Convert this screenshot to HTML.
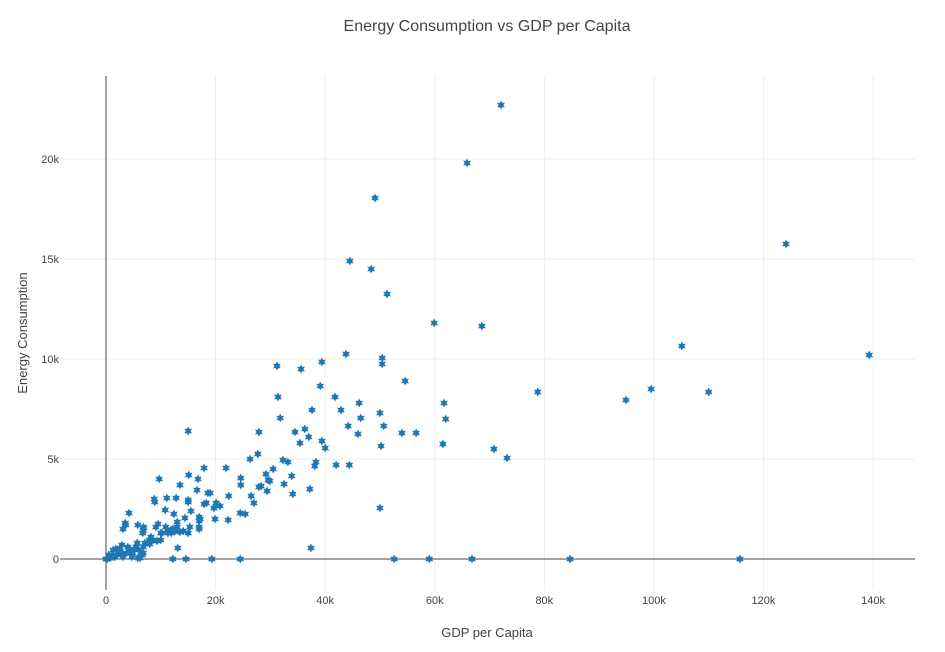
<!DOCTYPE html>
<html><head><meta charset="utf-8"><style>
body{margin:0;background:#fff;}
svg{display:block;font-family:"Liberation Sans",sans-serif;}
</style></head><body>
<svg id="chart" width="945" height="652">
<text x="487" y="31" text-anchor="middle" font-size="16" fill="#444">Energy Consumption vs GDP per Capita</text>
<g id="grid"></g>
<g id="axes"></g>
<g id="points"></g>
<text x="487" y="637" text-anchor="middle" font-size="13" fill="#444">GDP per Capita</text>
<text transform="translate(27,333) rotate(-90)" text-anchor="middle" font-size="13" fill="#444">Energy Consumption</text>
</svg>
<script>
const xTicks=[0,20,40,60,80,100,120,140];
const xTickLabels=["0","20k","40k","60k","80k","100k","120k","140k"];
const yTicks=[0,5,10,15,20];
const yTickLabels=["0","5k","10k","15k","20k"];
const gdp=[72.1,65.9,49.1,44.5,48.4,51.3,59.9,68.6,43.8,50.4,50.4,39.4,35.6,54.6,39.1,41.8,46.2,61.7,78.8,37.6,42.9,50,46.5,62,36.3,44.2,50.7,37,35.4,46,54,56.6,39.4,40,50.2,61.5,70.8,73.2,38.3,38.1,42,44.4,37.2,50,37.4,52.6,59,66.8,84.7,115.7,94.9,99.5,105.1,110,124.1,139.3,
31.2,31.4,31.8,15,27.9,34.5,27.7,26.3,32.3,33.2,30.5,17.9,21.9,9.7,15.1,13.5,16.8,16.6,24.6,24.6,29.2,29.6,29.9,27.9,28.3,29.4,32.5,33.9,34.1,18.6,19,8.8,8.9,11.1,12.8,15,15,22.4,26.5,27,17.9,18.3,19.7,20.1,20.8,10.8,15.5,4.2,12.4,24.5,25.4,13,14.4,17,17.2,17,19.9,22.3,5.8,6.8,6.9,6.8,6.7,3.5,3.6,3.1,9.5,9.1,10,10.9,11.3,11.9,12.2,12.6,13,13.5,14.1,15,15.3,17,17,10.2,11.3,11.9,8.2,7.9,7.5,8,8.6,9.3,10,
7.1,6.8,6,6.4,5.7,5.5,4.9,4.4,3.8,4,2.9,2.6,2.2,1.8,1.3,1.1,0.7,0.2,0,1.6,3.1,4.7,5.8,6.6,12.2,14.6,19.3,24.5,13.1,6.2,6.8,2,2.5,3,1,0.5,4.2,5.2];
const energy=[22.7,19.8,18.05,14.9,14.5,13.25,11.8,11.65,10.25,10.05,9.75,9.85,9.5,8.9,8.65,8.1,7.8,7.8,8.35,7.45,7.45,7.3,7.05,7.0,6.5,6.65,6.65,6.1,5.8,6.25,6.3,6.3,5.9,5.55,5.65,5.75,5.5,5.05,4.85,4.65,4.7,4.7,3.5,2.55,0.55,0,0,0,0,0,7.95,8.5,10.65,8.35,15.75,10.2,
9.65,8.1,7.05,6.4,6.35,6.35,5.25,5.0,4.95,4.85,4.5,4.55,4.55,4.0,4.2,3.7,4.0,3.45,4.05,3.7,4.25,3.95,3.9,3.6,3.65,3.4,3.75,4.15,3.25,3.3,3.3,3.0,2.85,3.05,3.05,2.95,2.85,3.15,3.15,2.8,2.75,2.8,2.55,2.8,2.65,2.45,2.4,2.3,2.25,2.3,2.25,1.85,2.05,2.1,2.0,1.9,2.0,1.95,1.7,1.6,1.55,1.4,1.3,1.8,1.7,1.5,1.75,1.6,1.3,1.6,1.4,1.45,1.5,1.4,1.6,1.35,1.4,1.3,1.6,1.6,1.5,1.3,1.3,1.3,1.1,0.95,0.8,0.75,0.95,0.9,0.95,
0.8,0.6,0.45,0.3,0.8,0.6,0.3,0.45,0.3,0.6,0.7,0.55,0.3,0.5,0.45,0.1,0.05,0,0,0.1,0.1,0.1,0.05,0.2,0,0,0,0,0.55,0.05,0.3,0.2,0.35,0.25,0.15,0.2,0.4,0.5];
const NS="http://www.w3.org/2000/svg";
const xs=v=>106+v*5.479;
const ys=v=>559-v*20;
function mk(tag,attrs,parent){const e=document.createElementNS(NS,tag);for(const k in attrs)e.setAttribute(k,attrs[k]);parent.appendChild(e);return e;}
const grid=document.getElementById('grid'),axes=document.getElementById('axes'),pts=document.getElementById('points');
xTicks.forEach((t,i)=>{
 if(t!==0){const l=mk('line',{x1:xs(t),x2:xs(t),y1:76,y2:590,stroke:'#eee','stroke-width':1},grid);
 
 }
 const tx=mk('text',{x:xs(t),y:604,'text-anchor':'middle','font-size':11,fill:'#444'},axes);tx.textContent=xTickLabels[i];
 
 
});
yTicks.forEach((t,i)=>{
 if(t!==0){const l=mk('line',{x1:60,x2:915,y1:ys(t),y2:ys(t),stroke:'#eee','stroke-width':1},grid);
 
 }
 const tx=mk('text',{x:59,y:ys(t)+4,'text-anchor':'end','font-size':11,fill:'#444'},axes);tx.textContent=yTickLabels[i];
 
 
});
const zx=mk('line',{x1:60,x2:915,y1:ys(0),y2:ys(0),stroke:'#444','stroke-width':1},axes);


const zy=mk('line',{x1:xs(0),x2:xs(0),y1:76,y2:590,stroke:'#444','stroke-width':1},axes);


function star(cx,cy,r){let p=[];for(let i=0;i<12;i++){const a=Math.PI/6*i-Math.PI/2;const rr=i%2?r*0.55:r;p.push((cx+rr*Math.cos(a)).toFixed(1)+','+(cy+rr*Math.sin(a)).toFixed(1));}return p.join(' ');}
for(let i=0;i<gdp.length;i++){
 const p=mk('polygon',{points:star(xs(gdp[i]),ys(energy[i]),3.8),fill:'#1f77b4',stroke:'#1f77b4','stroke-width':0.6},pts);
 
 
}
</script>
</body></html>
